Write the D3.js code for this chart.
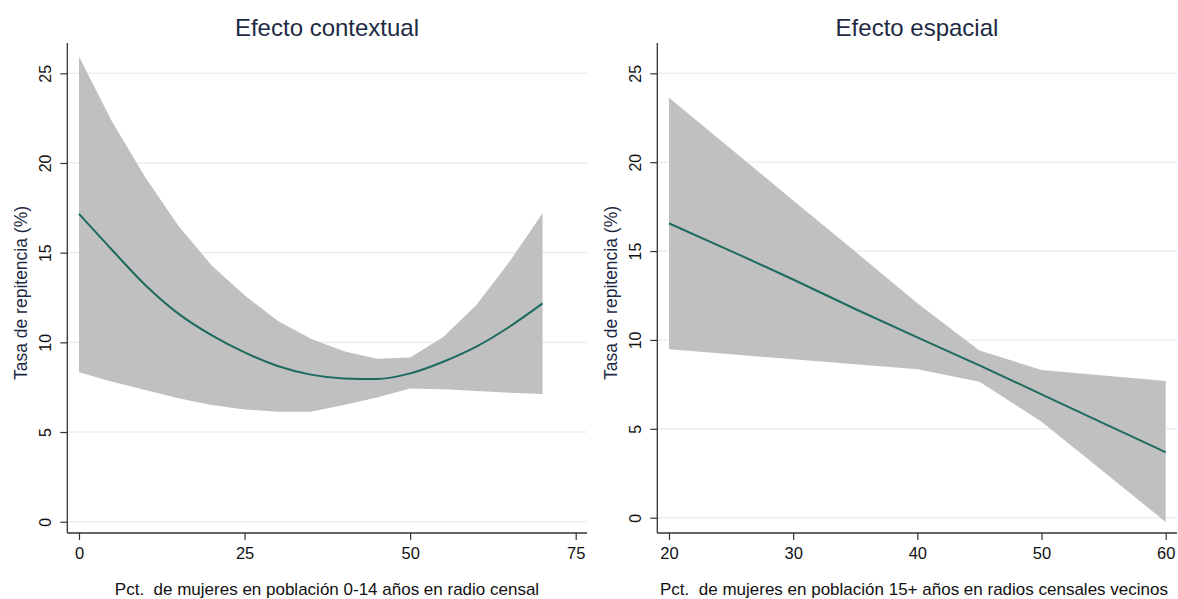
<!DOCTYPE html>
<html>
<head>
<meta charset="utf-8">
<script src="https://cdn.jsdelivr.net/npm/d3@7/dist/d3.min.js"></script>
<style>
  html, body { margin: 0; padding: 0; background: #ffffff; }
  svg { display: block; font-family: "Liberation Sans", Arial, sans-serif; }
</style>
</head>
<body>
<svg id="chart" width="1178" height="599"></svg>
<script>
// ---- Data ----
const yTicks = [0, 5, 10, 15, 20, 25];

const ctxTitle = "Efecto contextual";
const ctxXLabel = "Pct.  de mujeres en población 0-14 años en radio censal";
const ctxXTicks = [0, 25, 50, 75];
const ctxX   = [0, 5, 10, 15, 20, 25, 30, 35, 40, 45, 50, 55, 60, 65, 70];
const ctxFit = [17.16, 15.15, 13.2, 11.6, 10.4, 9.44, 8.68, 8.2, 7.99, 7.96, 8.27, 8.92, 9.76, 10.87, 12.17];
const ctxLo  = [8.33, 7.8, 7.34, 6.88, 6.5, 6.26, 6.13, 6.13, 6.5, 6.93, 7.43, 7.38, 7.29, 7.19, 7.12];
const ctxHi  = [25.93, 22.3, 19.2, 16.5, 14.3, 12.62, 11.2, 10.2, 9.5, 9.09, 9.15, 10.3, 12.08, 14.5, 17.2];

const spTitle = "Efecto espacial";
const spXLabel = "Pct.  de mujeres en población 15+ años en radios censales vecinos";
const spXTicks = [20, 30, 40, 50, 60];
const spX   = [20, 25, 30, 35, 40, 45, 50, 55, 60];
const spFit = [16.56, 15.0, 13.4, 11.74, 10.14, 8.57, 6.94, 5.31, 3.68];
const spLo  = [9.47, 9.19, 8.91, 8.63, 8.35, 7.65, 5.40, 2.59, -0.24];
const spHi  = [23.63, 20.74, 17.85, 14.97, 12.07, 9.41, 8.31, 8.0, 7.69];

const yLabel = "Tasa de repitencia (%)";

// ---- Style ----
const bandColor = "#c0c0c0";
const lineColor = "#1d6b5f";
const gridColor = "#e9f0f3";
const axisColor = "#333333";
const titleColor = "#1e2a44";
const textColor = "#111111";

const svg = d3.select("#chart");

function panel(cfg) {
  const g = svg.append("g");
  const x = d3.scaleLinear().domain(cfg.xDomain).range(cfg.xRange);
  const y = d3.scaleLinear().domain([0, 25]).range(cfg.yRange);

  // gridlines
  g.selectAll("line.grid").data(yTicks).enter().append("line")
    .attr("x1", cfg.axisX).attr("x2", cfg.plotRight)
    .attr("y1", d => y(d)).attr("y2", d => y(d))
    .attr("stroke", gridColor).attr("stroke-width", 1.6);

  const rows = cfg.xs.map((v, i) => ({ x: v, fit: cfg.fit[i], lo: cfg.lo[i], hi: cfg.hi[i] }));

  // confidence band
  g.append("path").datum(rows)
    .attr("d", d3.area().x(d => x(d.x)).y0(d => y(d.lo)).y1(d => y(d.hi)))
    .attr("fill", bandColor);

  // fitted line
  g.append("path").datum(rows)
    .attr("d", d3.line().x(d => x(d.x)).y(d => y(d.fit)).curve(d3.curveMonotoneX))
    .attr("fill", "none").attr("stroke", lineColor).attr("stroke-width", 2);

  // y axis
  const yAxis = g.append("g").attr("transform", `translate(${cfg.axisX},0)`)
    .call(d3.axisLeft(y).tickValues(yTicks).tickSize(7).tickSizeOuter(0).tickFormat(d3.format("d")));
  yAxis.select(".domain").remove();
  yAxis.selectAll(".tick line").attr("stroke", axisColor).attr("stroke-width", 1.2);
  yAxis.selectAll(".tick text")
    .attr("transform", "rotate(-90)")
    .attr("x", 0).attr("y", -16.5).attr("dy", 0)
    .attr("text-anchor", "middle")
    .attr("fill", textColor).style("font-size", "16px");

  // x axis
  const xAxis = g.append("g").attr("transform", `translate(0,${cfg.axisY})`)
    .call(d3.axisBottom(x).tickValues(cfg.xTicks).tickSize(7).tickSizeOuter(0).tickFormat(d3.format("d")));
  xAxis.select(".domain").remove();
  xAxis.selectAll(".tick line").attr("stroke", axisColor).attr("stroke-width", 1.2);
  xAxis.selectAll(".tick text")
    .attr("y", 26).attr("dy", 0)
    .attr("fill", textColor).style("font-size", "16.5px");

  // axis lines
  g.append("line").attr("x1", cfg.axisX).attr("x2", cfg.axisX)
    .attr("y1", cfg.plotTop).attr("y2", cfg.axisY)
    .attr("stroke", axisColor).attr("stroke-width", 1.3);
  g.append("line").attr("x1", cfg.axisX).attr("x2", cfg.plotRight)
    .attr("y1", cfg.axisY).attr("y2", cfg.axisY)
    .attr("stroke", axisColor).attr("stroke-width", 1.3);

  // title
  g.append("text").attr("x", cfg.titleX).attr("y", 36)
    .attr("text-anchor", "middle").attr("fill", titleColor)
    .style("font-size", "24px").text(cfg.title);

  // x axis title
  g.append("text").attr("x", cfg.xTitleX).attr("y", 595)
    .attr("text-anchor", "middle").attr("fill", textColor)
    .style("font-size", "17px").style("white-space", "pre").text(cfg.xLabel);

  // y axis title
  g.append("text")
    .attr("transform", `translate(${cfg.yTitleX},${cfg.yTitleY}) rotate(-90)`)
    .attr("text-anchor", "middle").attr("fill", titleColor)
    .style("font-size", "17.5px").text(yLabel);
}

panel({
  title: ctxTitle, xLabel: ctxXLabel, xTicks: ctxXTicks,
  xs: ctxX, fit: ctxFit, lo: ctxLo, hi: ctxHi,
  xDomain: [0, 75], xRange: [79, 575.7], yRange: [521.7, 73.3],
  axisX: 67.3, axisY: 533, plotTop: 43, plotRight: 587,
  titleX: 327, xTitleX: 327, yTitleX: 27, yTitleY: 293
});

panel({
  title: spTitle, xLabel: spXLabel, xTicks: spXTicks,
  xs: spX, fit: spFit, lo: spLo, hi: spHi,
  xDomain: [20, 60], xRange: [669, 1165.7], yRange: [517.7, 73.3],
  axisX: 657.3, axisY: 533, plotTop: 43, plotRight: 1177,
  titleX: 917, xTitleX: 914, yTitleX: 617, yTitleY: 293
});
</script>
</body>
</html>
